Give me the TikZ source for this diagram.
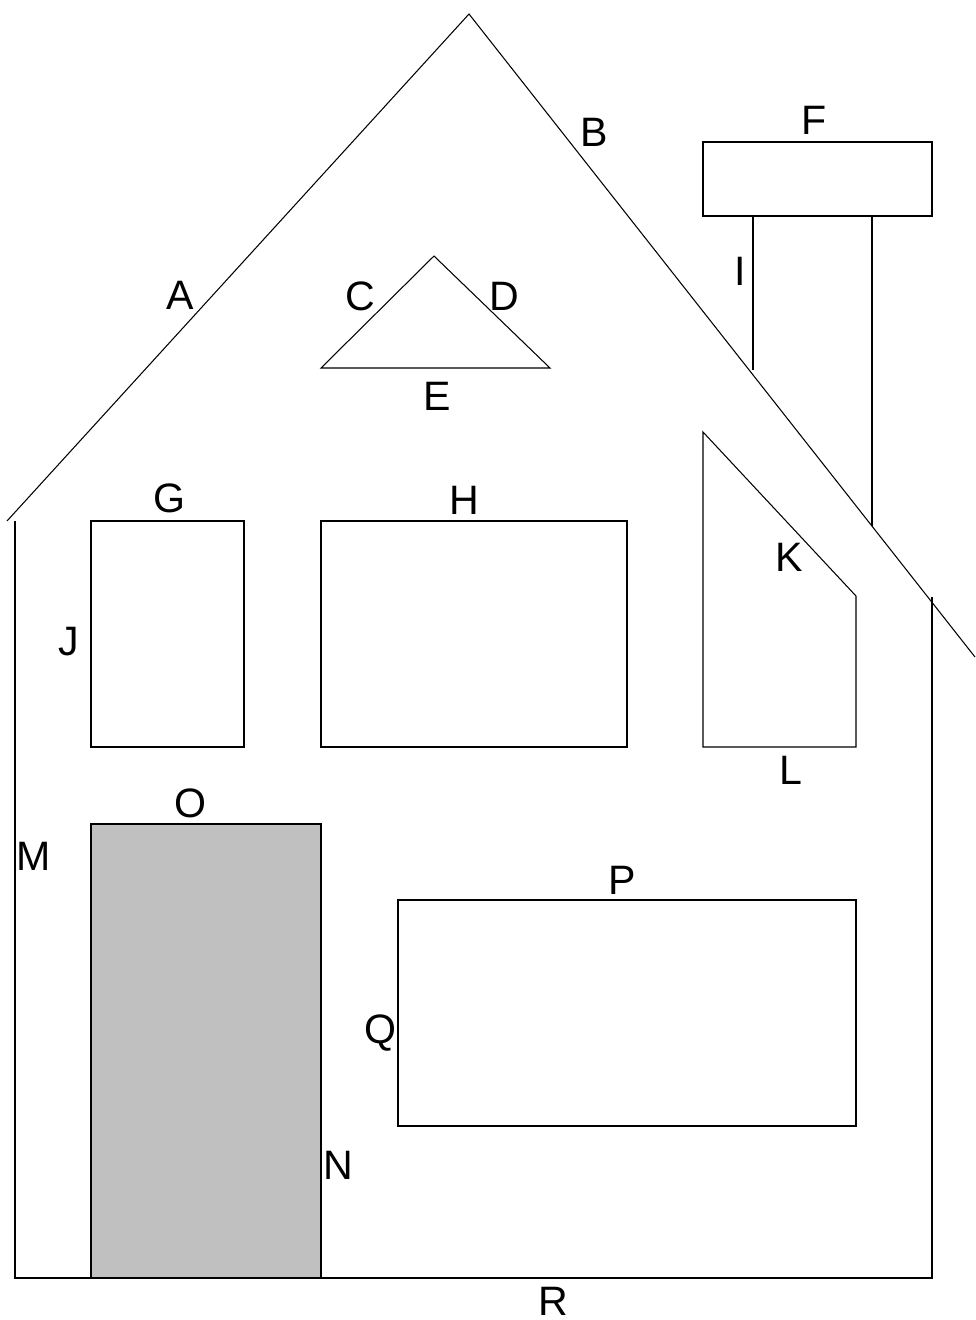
\documentclass[tikz,border=0pt]{standalone}
\usepackage{fontspec}
\setmainfont{Liberation Sans}
\usepackage{tikz}
\usetikzlibrary{calc}
\definecolor{cDoor}{RGB}{192,192,192}
\tikzset{
  outline/.style={draw=black,line width=0.6pt,line join=miter},
  doorbox/.style={outline,fill=cDoor},
  lbl/.style={inner sep=0pt,font=\fontsize{23.4}{27}\selectfont}
}
\begin{document}
\begin{tikzpicture}[x=0.02cm,y=-0.02cm]
  \useasboundingbox (0,0) rectangle (975,1320);

  % Corners of the house
  \coordinate (roofL) at (7,521);
  \coordinate (roofT) at (469,14);
  \coordinate (roofR) at (975,657);
  \coordinate (wallTL) at (15,521);
  \coordinate (wallBL) at (15,1278);
  \coordinate (wallBR) at (932,1278);
  \coordinate (wallTR) at (932,597);

  % Roof and walls
  \draw[outline] (roofL) -- (roofT) -- (roofR);
  \draw[outline] (wallTL) -- (wallBL) -- (wallBR) -- (wallTR);

  % Chimney
  \draw[outline] (703,142) rectangle (932,216);
  \coordinate (chimL) at (753,216);
  \coordinate (chimR) at (872,216);
  \draw[outline] (chimL) -- (753,370);
  \draw[outline] (chimR) -- (872,526);

  % Attic window
  \draw[outline] (321,368) -- (434,256) -- (550,368) -- cycle;

  % Windows
  \draw[outline] (91,521) rectangle (244,747);
  \draw[outline] (321,521) rectangle (627,747);
  \draw[outline] (703,432) -- (856,596) -- (856,747) -- (703,747) -- cycle;
  \draw[outline] (398,900) rectangle (856,1126);

  % Door
  \draw[doorbox] (91,824) rectangle (321,1278);

  % Labels
  \node[lbl] (A) at (180,295) {A};
  \node[lbl] (B) at (594,132) {B};
  \node[lbl] (C) at (360,296) {C};
  \node[lbl] (D) at (504,296) {D};
  \node[lbl] (E) at (437,396) {E};
  \node[lbl] (F) at (814,120) {F};
  \node[lbl] (G) at (169,498) {G};
  \node[lbl] (H) at (464,500) {H};
  \node[lbl] (I) at (740,271) {I};
  \node[lbl] (J) at (69,642) {J};
  \node[lbl] (K) at (789,557) {K};
  \node[lbl] (L) at (791,770) {L};
  \node[lbl] (M) at (34,856) {M};
  \node[lbl] (N) at (338,1165) {N};
  \node[lbl] (O) at (190,803) {O};
  \node[lbl] (P) at (622,880) {P};
  \node[lbl] (Q) at (380,1033) {Q};
  \node[lbl] (R) at (553,1301) {R};

\end{tikzpicture}
\end{document}
